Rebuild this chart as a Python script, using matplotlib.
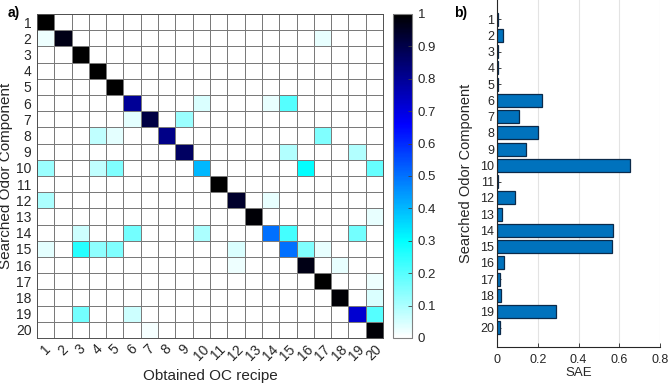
import matplotlib
matplotlib.use("Agg")
import matplotlib.pyplot as plt
from matplotlib.colors import LinearSegmentedColormap
import numpy as np

plt.rcParams['font.family'] = ['Liberation Sans', 'DejaVu Sans']

# components 1..20
components = list(range(1, 21))

# diagonal of the confusion matrix (searched i -> obtained i)
diag_vals = [1.0, 0.97, 1.0, 1.0, 1.0, 0.8, 0.91, 0.82, 0.87, 0.4,
             1.0, 0.94, 0.99, 0.5, 0.5, 0.97, 1.0, 0.99, 0.72, 0.99]

# off-diagonal entries (searched row, obtained column, value)
off_rows = [2, 2, 6, 6, 6, 7, 7, 8, 8, 8, 9, 9, 10, 10, 10, 10, 10,
            12, 12, 13, 14, 14, 14, 14, 14, 15, 15, 15, 15, 15, 15, 15,
            16, 16, 17, 18, 19, 19, 19, 20]
off_cols = [1, 17, 10, 14, 15, 6, 9, 4, 5, 17, 15, 19, 1, 4, 5, 16, 20,
            1, 14, 20, 3, 6, 10, 15, 19, 1, 3, 4, 5, 12, 16, 17,
            12, 18, 20, 20, 3, 6, 20, 7]
off_vals = [0.02, 0.03, 0.045, 0.03, 0.2, 0.035, 0.12, 0.075, 0.035, 0.15,
            0.09, 0.09, 0.12, 0.075, 0.15, 0.3, 0.18,
            0.1, 0.03, 0.03, 0.06, 0.165, 0.1, 0.22, 0.165,
            0.035, 0.255, 0.135, 0.15, 0.045, 0.15, 0.03,
            0.02, 0.03, 0.02, 0.045, 0.165, 0.06, 0.2, 0.015]

# SAE per searched component
sae = [0.003, 0.03, 0.003, 0.003, 0.003, 0.222, 0.108, 0.199, 0.14, 0.654,
       0.003, 0.087, 0.022, 0.568, 0.565, 0.034, 0.015, 0.02, 0.29, 0.015]

n = len(components)
mat = np.zeros((n, n))
for i, v in enumerate(diag_vals):
    mat[i, i] = v
for r, c, v in zip(off_rows, off_cols, off_vals):
    mat[r - 1, c - 1] = v

cmap = LinearSegmentedColormap.from_list(
    'wcb', [(0, (1, 1, 1)), (0.3, (0, 1, 1)), (0.66, (0, 0, 1)), (1, (0, 0, 0))])

fig = plt.figure(figsize=(6.69, 3.83), dpi=100)

# --- heatmap ---
ax = fig.add_axes([0.0553, 0.1175, 0.5172, 0.846])
edges = np.arange(0.5, n + 1.5)
mesh = ax.pcolormesh(edges, edges, mat, cmap=cmap, vmin=0, vmax=1,
                     edgecolors='#7a7a7a', linewidth=0.6)
ax.set_xlim(0.5, n + 0.5)
ax.set_ylim(n + 0.5, 0.5)
ax.set_xticks(components)
ax.set_yticks(components)
ax.set_xticklabels([str(c) for c in components], rotation=45, ha='center', va='top')
ax.set_yticklabels([str(c) for c in components])
ax.tick_params(length=0, labelsize=10, pad=4, labelcolor='#262626')
ax.tick_params(axis='x', pad=3)
for s in ax.spines.values():
    s.set_color('#505050')
    s.set_linewidth(0.7)
ax.set_xlabel('Obtained OC recipe', fontsize=11, labelpad=4, color='#262626')
ax.set_ylabel('Searched Odor Component', fontsize=11, labelpad=2, color='#262626')

# --- colorbar ---
cax = fig.add_axes([0.5874, 0.1175, 0.0284, 0.846])
cb = fig.colorbar(mesh, cax=cax, ticks=np.linspace(0, 1, 11))
cb.set_ticklabels(['0', '0.1', '0.2', '0.3', '0.4', '0.5', '0.6', '0.7', '0.8', '0.9', '1'])
cb.outline.set_edgecolor('#808080')
cb.outline.set_linewidth(0.8)
cax.tick_params(direction='in', length=3, width=0.6, color='#404040', labelsize=9.5, pad=4,
                labelcolor='#262626')

# --- bar chart ---
bx = fig.add_axes([0.743, 0.094, 0.2436, 0.906])
bx.barh(components, sae, height=0.8, color='#0072BD', edgecolor='#0b2a4a', linewidth=0.9, zorder=3)
bx.set_xlim(0, 0.8)
bx.set_ylim(21.17, -0.17)
bx.set_xticks([0, 0.2, 0.4, 0.6, 0.8])
bx.set_xticklabels(['0', '0.2', '0.4', '0.6', '0.8'])
bx.set_yticks(components)
bx.grid(axis='x', color='#e3e3e3', linewidth=0.8, zorder=0)
bx.spines['top'].set_visible(False)
bx.spines['right'].set_visible(False)
bx.spines['left'].set_color('#262626')
bx.spines['bottom'].set_color('#262626')
bx.spines['left'].set_zorder(4)
bx.tick_params(direction='in', length=3, width=0.6, color='#262626', labelsize=9, pad=2,
               labelcolor='#262626')
bx.tick_params(axis='x', pad=5)
bx.set_xlabel('SAE', fontsize=9.5, labelpad=1, color='#262626')
bx.set_ylabel('Searched Odor Component', fontsize=10.5, labelpad=5, color='#262626')

fig.text(0.012, 0.965, 'a)', fontsize=10, fontweight='bold', va='center')
fig.text(0.678, 0.965, 'b)', fontsize=10, fontweight='bold', va='center')

fig.savefig('out.png', dpi=100)
